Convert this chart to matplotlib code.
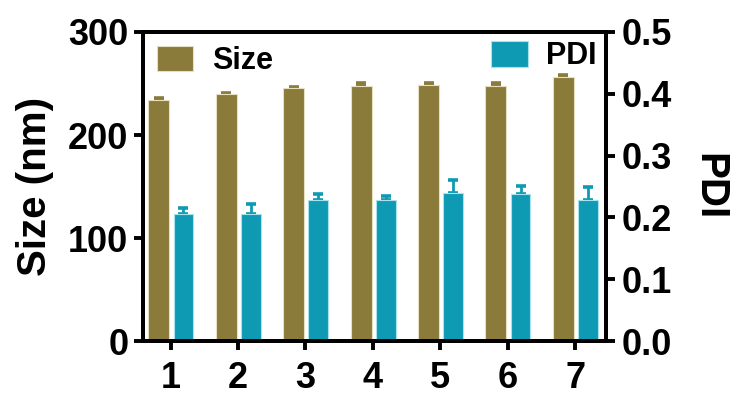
import matplotlib
matplotlib.use("Agg")
import matplotlib.pyplot as plt
import numpy as np

plt.rcParams["font.family"] = ["Liberation Sans", "DejaVu Sans"]
plt.rcParams["font.weight"] = "bold"

samples = ["1", "2", "3", "4", "5", "6", "7"]
size_nm = [234, 240, 246, 247.5, 248.5, 247.5, 256]
size_err = [2, 1, 0.8, 3, 1.7, 3, 2]
pdi = [0.205, 0.206, 0.229, 0.228, 0.239, 0.238, 0.229]
pdi_err = [0.011, 0.016, 0.009, 0.007, 0.022, 0.013, 0.020]

size_col = "#8b7b3a"
pdi_col = "#0f9ab4"

fig = plt.figure(figsize=(7.41, 3.98), dpi=100)
ax = fig.add_axes([0.193, 0.143, 0.625, 0.7766])
ax2 = ax.twinx()

x = np.arange(1, len(samples) + 1)
w = 0.31

ax.bar(x - 0.175, size_nm, w, color=size_col, edgecolor="#e6dfc0", linewidth=0.8,
       label="Size", zorder=2)
ax.errorbar(x - 0.175, size_nm, yerr=[np.zeros(len(x)), size_err], fmt="none",
            ecolor=size_col, elinewidth=2, capsize=3.4, capthick=2.6, zorder=1)

ax2.bar(x + 0.19, pdi, w * 0.95, color=pdi_col, edgecolor="#a8e2ec", linewidth=0.8,
        label="PDI", zorder=2)
ax2.errorbar(x + 0.19, pdi, yerr=[np.zeros(len(x)), pdi_err], fmt="none",
             ecolor=pdi_col, elinewidth=2, capsize=3.4, capthick=2.6, zorder=1)

ax.set_xlim(0.59, 7.46)
ax.set_ylim(0, 300)
ax2.set_ylim(0, 0.5)
ax.set_xticks(x)
ax.set_xticklabels(samples)
ax.set_yticks([0, 100, 200, 300])
ax2.set_yticks([0.0, 0.1, 0.2, 0.3, 0.4, 0.5])
ax2.set_yticklabels(["0.0", "0.1", "0.2", "0.3", "0.4", "0.5"])

for a in (ax, ax2):
    for s in a.spines.values():
        s.set_linewidth(2.8)
    a.tick_params(width=2.8, length=6.5, labelsize=26)
ax.tick_params(axis="x", pad=8)
ax.tick_params(axis="y", pad=4)
ax2.tick_params(axis="y", pad=5)

ax.set_ylabel("Size (nm)", fontsize=29, fontweight="bold", labelpad=10)
ax2.set_ylabel("PDI", fontsize=29, fontweight="bold", rotation=270, labelpad=40)

ax.legend(loc="upper left", frameon=False, fontsize=22, handlelength=1.2,
          handleheight=0.9, borderpad=0.1, borderaxespad=0.35, handletextpad=0.6)
ax2.legend(loc="upper right", frameon=False, fontsize=22, handlelength=1.2,
           handleheight=0.9, borderpad=0.1, borderaxespad=0.2, handletextpad=0.6)

fig.savefig("out.png", dpi=100)
